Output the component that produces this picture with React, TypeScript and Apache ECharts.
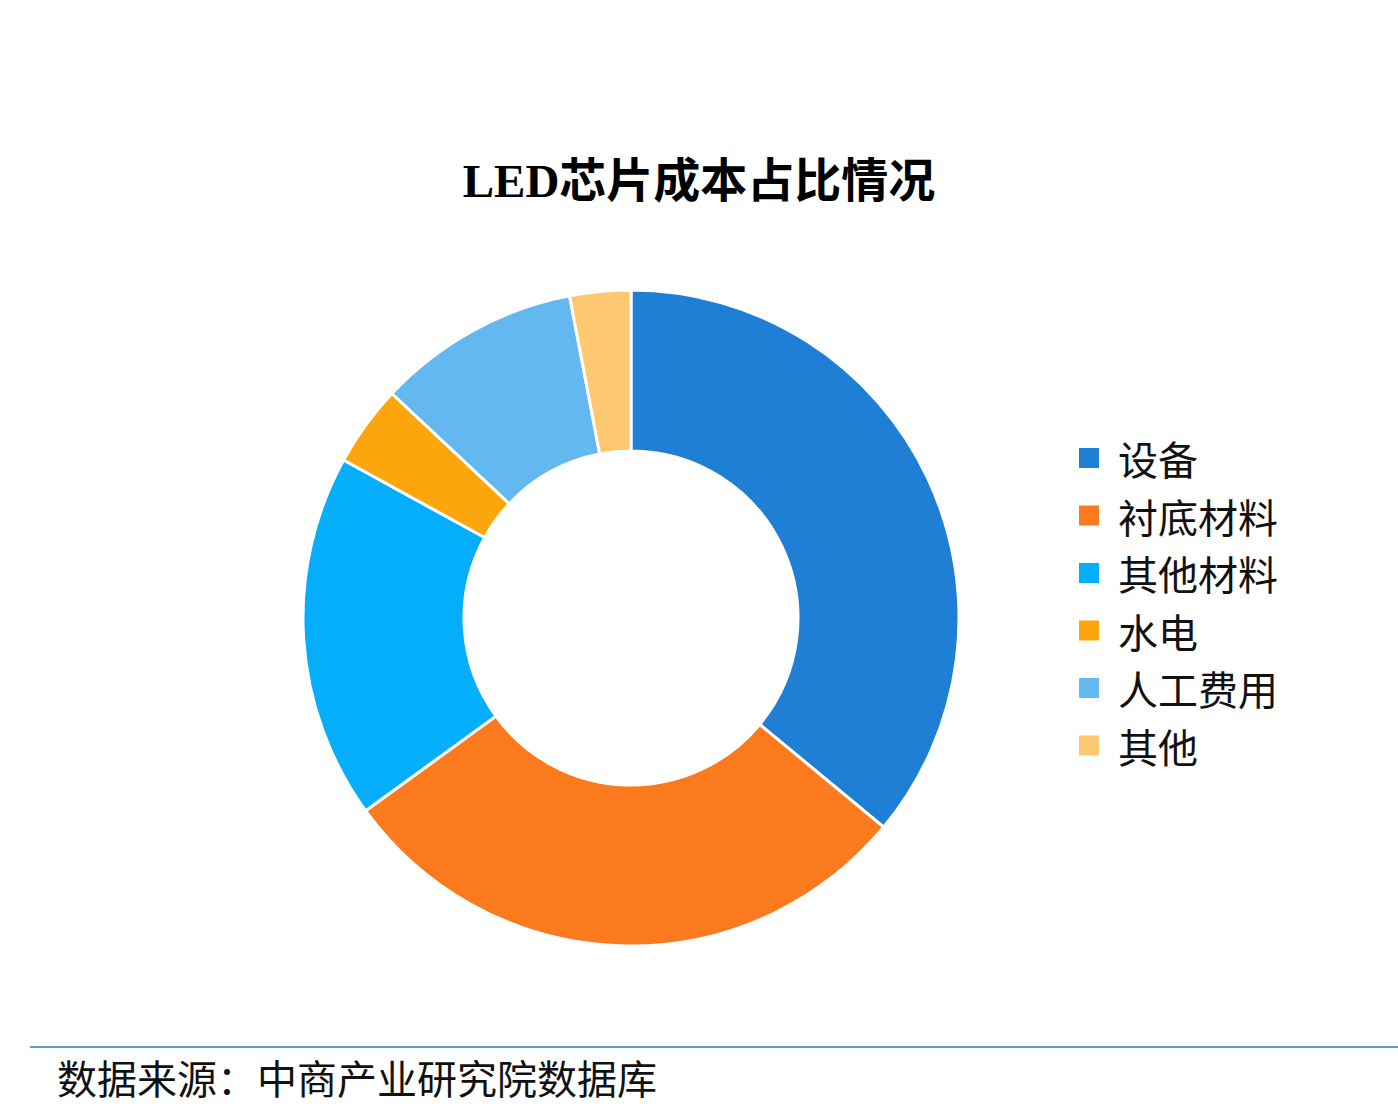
import React, { useEffect, useRef } from 'react';
import * as echarts from 'echarts';

const categories = ['设备', '衬底材料', '其他材料', '水电', '人工费用', '其他'];
const shares = [36, 29, 18, 4, 10, 3];
const colors = ['#1f7fd5', '#fb7a1e', '#05aefb', '#fba60d', '#63b8ef', '#fec870'];

const App: React.FC = () => {
  const chartRef = useRef<HTMLDivElement>(null);

  useEffect(() => {
    if (!chartRef.current) return;
    const chart = echarts.init(chartRef.current, undefined, { renderer: 'svg' });

    const option: echarts.EChartsOption = {
      animation: false,
      backgroundColor: '#ffffff',
      title: {
        text: 'LED芯片成本占比情况',
        left: 'center',
        top: 152,
        textStyle: {
          fontFamily: '"Liberation Serif", "Noto Sans CJK SC", serif',
          fontWeight: 'bold',
          fontSize: 47,
          color: '#000000',
        },
      },
      legend: {
        orient: 'vertical',
        left: 1072,
        top: 433,
        itemWidth: 22,
        itemHeight: 22,
        itemGap: 17.5,
        icon: 'rect',
        data: categories,
        textStyle: {
          fontFamily: '"Noto Sans CJK SC", sans-serif',
          fontSize: 40,
          lineHeight: 40,
          color: '#111111',
          padding: [0, 0, 0, 13],
        },
      },
      series: [
        {
          type: 'pie',
          center: [631, 618],
          radius: [167, 328],
          startAngle: 90,
          clockwise: true,
          label: { show: false },
          labelLine: { show: false },
          itemStyle: { borderColor: '#ffffff', borderWidth: 3 },
          emphasis: { disabled: true },
          data: categories.map((name, i) => ({
            name,
            value: shares[i],
            itemStyle: { color: colors[i] },
          })),
        },
      ],
      graphic: [
        {
          type: 'line',
          shape: { x1: 30, y1: 1047, x2: 1398, y2: 1047 },
          style: { stroke: '#5b9bd5', lineWidth: 2 },
        },
        {
          type: 'text',
          x: 57,
          y: 1077,
          style: {
            text: '数据来源：中商产业研究院数据库',
            font: '40px "Noto Sans CJK SC", sans-serif',
            fill: '#111111',
            verticalAlign: 'middle',
          },
        },
      ],
    };

    chart.setOption(option);
    return () => {
      chart.dispose();
    };
  }, []);

  return (
    <div
      ref={chartRef}
      style={{ position: 'fixed', left: 0, top: 0, width: '1398px', height: '1108px' }}
    ></div>
  );
};

export default App;
